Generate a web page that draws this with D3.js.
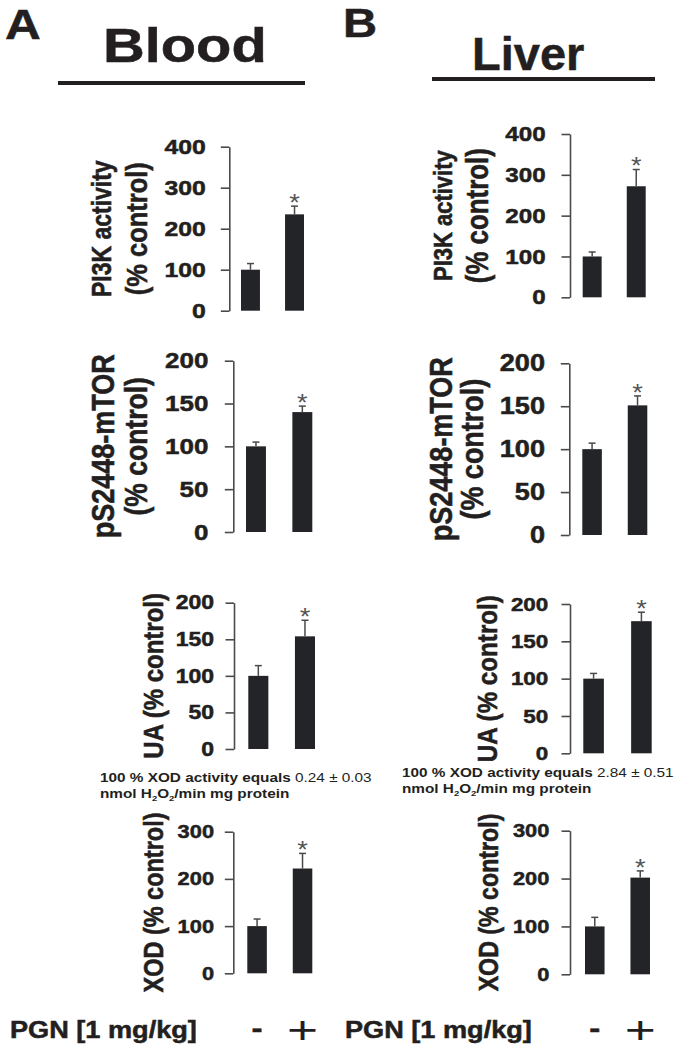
<!DOCTYPE html>
<html>
<head>
<meta charset="utf-8">
<script src="https://cdn.jsdelivr.net/npm/d3@7"></script>
<style>
  html, body { margin: 0; padding: 0; background: #fff; }
  svg { display: block; }
</style>
</head>
<body>
<svg id="chart" width="686" height="1052"></svg>
<script>
// ---- data ----
const tissues = ["Blood", "Liver"];
const panelLetters = ["A", "B"];
const groups = ["-", "+"];
const measureLabels = [
  ["PI3K activity", "(% control)"],
  ["pS2448-mTOR", "(% control)"],
  ["UA (% control)"],
  ["XOD (% control)"]
];
const yMaxes = [400, 200, 200, 300];
const yTickSteps = [100, 50, 50, 100];

const bloodMeans = [[100, 235], [100, 140], [100, 154], [100, 222]];
const bloodSems  = [[15, 20], [5, 7], [14, 22], [15, 32]];
const liverMeans = [[100, 272], [100, 151], [100, 177], [100, 202]];
const liverSems  = [[11, 41], [7, 11], [7, 12], [19, 14]];
const starred = ["+"];

const xodBaseline = ["0.24 ± 0.03", "2.84 ± 0.51"];
const treatmentLabel = "PGN [1 mg/kg]";

// ---- layout ----
const SX = 1.18; // figure text is a bit wide
const FONT = "'Liberation Sans', Arial, Helvetica, sans-serif";
const INK = "#231f20";
const BAR = "#222428";
const GREY = "#4a4a4a";
const HEAVY = 0.5; // extra stroke so bold text reads as heavy as the scan

// per tissue, per measure: axis x, pixel y of 0 and of max, bar span, label offsets
const layout = [
  [
    { ax: 229.3, y0: 310.7, y1: 146.7, span: [11.7, 74.7], gap: 23.6, tickFs: 21, lab: [[-127.6, 23], [-93.3, 25.5]] },
    { ax: 233.3, y0: 532.0, y1: 360.7, span: [12.7, 79.0], gap: 25.0, tickFs: 22, lab: [[-130.3, 27], [-96.8, 26.5]] },
    { ax: 234.0, y0: 749.0, y1: 602.7, span: [14.3, 81.0], gap: 20.0, tickFs: 19.5, lab: [[-80.7, 24]] },
    { ax: 233.3, y0: 973.3, y1: 831.7, span: [14.0, 79.0], gap: 19.3, tickFs: 18.5, lab: [[-80.0, 23.5]] }
  ],
  [
    { ax: 570.0, y0: 297.3, y1: 134.0, span: [12.7, 75.7], gap: 24.3, tickFs: 20.5, lab: [[-127.0, 22], [-92.3, 25.9]] },
    { ax: 569.3, y0: 535.0, y1: 363.3, span: [13.0, 78.0], gap: 24.3, tickFs: 23, lab: [[-128.3, 27], [-97.3, 27]] },
    { ax: 570.0, y0: 753.3, y1: 604.0, span: [13.3, 81.7], gap: 21.7, tickFs: 19, lab: [[-83.3, 24.2]] },
    { ax: 570.0, y0: 974.3, y1: 830.7, span: [15.0, 80.0], gap: 20.7, tickFs: 18.5, lab: [[-81.7, 23.2]] }
  ]
];

const svg = d3.select("#chart");

// text stretched horizontally like the source figure
function stext(parent, x, y, str, size, opts = {}) {
  const sx = opts.sx || SX;
  const weight = opts.weight || "bold";
  const t = parent.append("text")
    .attr("transform", `translate(${x},${y}) scale(${sx},1)` + (opts.rotate ? " rotate(-90)" : ""))
    .attr("font-family", FONT)
    .attr("font-size", size)
    .attr("font-weight", weight)
    .attr("fill", opts.fill || INK)
    .attr("text-anchor", opts.anchor || "start");
  if (weight === "bold" && opts.heavy !== false) {
    t.attr("stroke", opts.fill || INK).attr("stroke-width", HEAVY);
  }
  if (opts.dy) t.attr("dy", opts.dy);
  if (str != null) t.text(str);
  return t;
}

// headers
const headers = [
  { letter: [5, 39, 42], title: [103, 62, 49, SX], line: [58, 305, 83] },
  { letter: [343, 37, 40], title: [472, 70, 47, 1.0], line: [432, 655, 79] }
];
tissues.forEach((tissue, ti) => {
  const h = headers[ti];
  stext(svg, h.letter[0], h.letter[1], panelLetters[ti], h.letter[2]);
  stext(svg, h.title[0], h.title[1], tissue, h.title[2], { sx: h.title[3] });
  svg.append("line")
    .attr("x1", h.line[0]).attr("x2", h.line[1])
    .attr("y1", h.line[2]).attr("y2", h.line[2])
    .attr("stroke", INK).attr("stroke-width", 4);
});

// panels
tissues.forEach((tissue, ti) => {
  const means = ti === 0 ? bloodMeans : liverMeans;
  const sems = ti === 0 ? bloodSems : liverSems;

  measureLabels.forEach((labels, mi) => {
    const L = layout[ti][mi];
    const g = svg.append("g");

    const y = d3.scaleLinear().domain([0, yMaxes[mi]]).range([L.y0, L.y1]);
    const x = d3.scaleBand().domain(groups)
      .range([L.ax + L.span[0], L.ax + L.span[1]])
      .paddingInner(0.57).paddingOuter(0);

    const axis = d3.axisLeft(y)
      .tickValues(d3.range(0, yMaxes[mi] + 1, yTickSteps[mi]))
      .tickSize(8.5)
      .tickSizeOuter(0)
      .tickFormat(d3.format("d"));

    const ag = g.append("g")
      .attr("transform", `translate(${L.ax},0)`)
      .call(axis);
    ag.select(".domain").attr("stroke", GREY).attr("stroke-width", 1.6);
    ag.selectAll(".tick line").attr("stroke", GREY).attr("stroke-width", 1.6);
    ag.selectAll(".tick text")
      .attr("x", -L.gap / SX)
      .attr("transform", `scale(${SX},1)`)
      .attr("font-family", FONT)
      .attr("font-weight", "bold")
      .attr("font-size", L.tickFs)
      .attr("fill", INK)
      .attr("stroke", INK)
      .attr("stroke-width", HEAVY);

    const rows = groups.map((k, i) => ({ k, mean: means[mi][i], sem: sems[mi][i] }));

    g.selectAll("rect.bar")
      .data(rows)
      .join("rect")
      .attr("class", "bar")
      .attr("x", d => x(d.k))
      .attr("width", x.bandwidth())
      .attr("y", d => y(d.mean))
      .attr("height", d => y(0) - y(d.mean))
      .attr("fill", BAR);

    // upper error whisker only
    const capW = 7;
    g.selectAll("line.err")
      .data(rows)
      .join("line")
      .attr("class", "err")
      .attr("x1", d => x(d.k) + x.bandwidth() / 2)
      .attr("x2", d => x(d.k) + x.bandwidth() / 2)
      .attr("y1", d => y(d.mean))
      .attr("y2", d => y(d.mean + d.sem))
      .attr("stroke", GREY).attr("stroke-width", 1.5);
    g.selectAll("line.cap")
      .data(rows)
      .join("line")
      .attr("class", "cap")
      .attr("x1", d => x(d.k) + x.bandwidth() / 2 - capW / 2)
      .attr("x2", d => x(d.k) + x.bandwidth() / 2 + capW / 2)
      .attr("y1", d => y(d.mean + d.sem))
      .attr("y2", d => y(d.mean + d.sem))
      .attr("stroke", GREY).attr("stroke-width", 1.5);

    // significance marks
    rows.filter(d => starred.includes(d.k)).forEach(d => {
      const fs = 23;
      stext(g, x(d.k) + x.bandwidth() / 2, y(d.mean + d.sem) - 8.5 + 0.58 * fs, "*", fs,
        { weight: "normal", anchor: "middle", fill: "#555" });
    });

    // y labels (rotated, centred on the axis)
    const yc = (L.y0 + L.y1) / 2;
    labels.forEach((txt, li) => {
      stext(g, L.ax + L.lab[li][0], yc, txt, L.lab[li][1],
        { rotate: true, anchor: "middle", dy: "0.35em" });
    });

    // XOD reference note above the XOD panel
    if (mi === 3) {
      const nx = ti === 0 ? 100 : 402;
      const nb = ti === 0 ? 782 : 777;
      const t1 = stext(svg, nx, nb, null, 13, { heavy: false });
      t1.append("tspan").text("100 % XOD activity equals ");
      t1.append("tspan").attr("font-weight", "normal").text(xodBaseline[ti]);
      const t2 = stext(svg, nx, nb + 16, null, 13, { heavy: false });
      t2.append("tspan").text("nmol H");
      t2.append("tspan").attr("font-size", 8).attr("dy", 3).text("2");
      t2.append("tspan").attr("dy", -3).text("O");
      t2.append("tspan").attr("font-size", 8).attr("dy", 3).text("2");
      t2.append("tspan").attr("dy", -3).text("/min mg protein");

      // treatment row under the last panel
      stext(svg, ti === 0 ? 10 : 345, 1038, treatmentLabel, 23);
      stext(svg, x("-") + x.bandwidth() / 2, 1037.6, "-", 28, { anchor: "middle" });
      stext(svg, x("+") + x.bandwidth() / 2, 1043, "+", 38, { anchor: "middle", weight: "normal", sx: 1.4 });
    }
  });
});
</script>
</body>
</html>
